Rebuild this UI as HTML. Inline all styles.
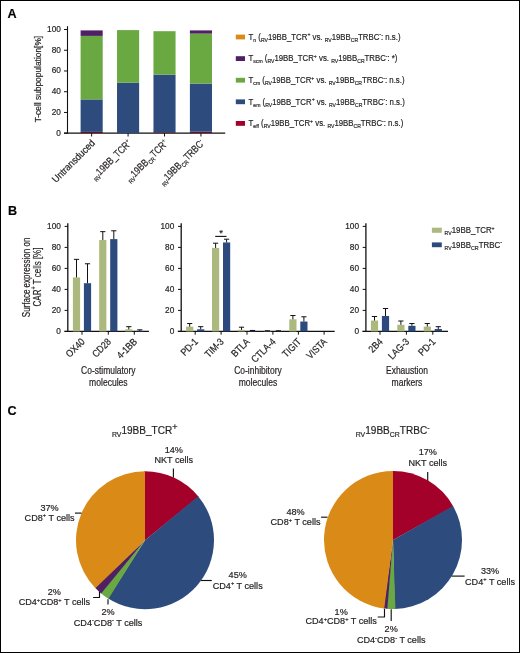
<!DOCTYPE html>
<html><head><meta charset="utf-8"><style>
html,body{margin:0;padding:0;background:#fff;}
svg{display:block;font-family:"Liberation Sans", sans-serif;will-change:transform;}
text{stroke:#231f20;stroke-width:0.2px;}
</style></head><body>
<svg width="520" height="653" viewBox="0 0 520 653">
<rect x="0.5" y="0.5" width="519" height="652" fill="none" stroke="#000" stroke-width="1"/>
<text x="7.6" y="18" font-size="12.6" font-weight="bold" fill="#000">A</text>
<text x="7.9" y="215.2" font-size="12.6" font-weight="bold" fill="#000">B</text>
<text x="7.6" y="415.2" font-size="12.6" font-weight="bold" fill="#000">C</text>
<line x1="67.5" y1="26.2" x2="67.5" y2="133.7" stroke="#111" stroke-width="1.1"/>
<line x1="64.0" y1="133.2" x2="225.2" y2="133.2" stroke="#111" stroke-width="1.2"/>
<line x1="64.0" y1="133.2" x2="67.5" y2="133.2" stroke="#111" stroke-width="1.0"/>
<text x="60.9" y="135.7" font-size="8.9" text-anchor="end" textLength="4.6" lengthAdjust="spacingAndGlyphs" fill="#231f20">0</text>
<line x1="64.0" y1="112.46" x2="67.5" y2="112.46" stroke="#111" stroke-width="1.0"/>
<text x="60.9" y="114.96" font-size="8.9" text-anchor="end" textLength="9.2" lengthAdjust="spacingAndGlyphs" fill="#231f20">20</text>
<line x1="64.0" y1="91.72" x2="67.5" y2="91.72" stroke="#111" stroke-width="1.0"/>
<text x="60.9" y="94.22" font-size="8.9" text-anchor="end" textLength="9.2" lengthAdjust="spacingAndGlyphs" fill="#231f20">40</text>
<line x1="64.0" y1="70.97999999999999" x2="67.5" y2="70.97999999999999" stroke="#111" stroke-width="1.0"/>
<text x="60.9" y="73.48" font-size="8.9" text-anchor="end" textLength="9.2" lengthAdjust="spacingAndGlyphs" fill="#231f20">60</text>
<line x1="64.0" y1="50.239999999999995" x2="67.5" y2="50.239999999999995" stroke="#111" stroke-width="1.0"/>
<text x="60.9" y="52.74" font-size="8.9" text-anchor="end" textLength="9.2" lengthAdjust="spacingAndGlyphs" fill="#231f20">80</text>
<line x1="64.0" y1="29.5" x2="67.5" y2="29.5" stroke="#111" stroke-width="1.0"/>
<text x="60.9" y="32.0" font-size="8.9" text-anchor="end" textLength="13.799999999999999" lengthAdjust="spacingAndGlyphs" fill="#231f20">100</text>
<rect x="80.60" y="131.90" width="22.10" height="1.10" fill="#6e0b28"/>
<rect x="80.60" y="99.40" width="22.10" height="32.50" fill="#2e4b7d"/>
<rect x="80.60" y="35.90" width="22.10" height="63.50" fill="#6aa842"/>
<rect x="80.60" y="30.40" width="22.10" height="5.50" fill="#4f2064"/>
<line x1="91.64999999999999" y1="133.2" x2="91.64999999999999" y2="136.5" stroke="#111" stroke-width="1.0"/>
<rect x="117.03" y="82.70" width="22.10" height="50.30" fill="#2e4b7d"/>
<rect x="117.03" y="30.10" width="22.10" height="52.60" fill="#6aa842"/>
<line x1="128.08" y1="133.2" x2="128.08" y2="136.5" stroke="#111" stroke-width="1.0"/>
<rect x="153.46" y="132.30" width="22.10" height="0.70" fill="#6e0b28"/>
<rect x="153.46" y="74.60" width="22.10" height="57.70" fill="#2e4b7d"/>
<rect x="153.46" y="31.20" width="22.10" height="43.40" fill="#6aa842"/>
<line x1="164.51" y1="133.2" x2="164.51" y2="136.5" stroke="#111" stroke-width="1.0"/>
<rect x="189.89" y="131.70" width="22.10" height="1.30" fill="#6e0b28"/>
<rect x="189.89" y="83.60" width="22.10" height="48.10" fill="#2e4b7d"/>
<rect x="189.89" y="33.60" width="22.10" height="50.00" fill="#6aa842"/>
<rect x="189.89" y="30.40" width="22.10" height="3.20" fill="#4f2064"/>
<line x1="200.94" y1="133.2" x2="200.94" y2="136.5" stroke="#111" stroke-width="1.0"/>
<text x="0" y="0" font-size="9.8" text-anchor="middle" fill="#231f20" textLength="86.5" lengthAdjust="spacingAndGlyphs" transform="translate(40.6,79.1) rotate(-90)">T-cell subpopulation[%]</text>
<text x="0" y="0" font-size="10.0" text-anchor="end" fill="#231f20" transform="translate(95.64999999999999,143.79999999999998) rotate(-45) scale(0.9,1)"><tspan font-size="10.00" dy="0.00">Untransduced</tspan></text>
<text x="0" y="0" font-size="10.2" text-anchor="end" fill="#231f20" transform="translate(132.08,143.79999999999998) rotate(-45) scale(0.82,1)"><tspan font-size="6.20" dy="2.24">RV</tspan><tspan font-size="10.20" dy="-2.24">19BB_TCR</tspan><tspan font-size="6.20" dy="-3.88">+</tspan></text>
<text x="0" y="0" font-size="10.2" text-anchor="end" fill="#231f20" transform="translate(168.51,143.79999999999998) rotate(-45) scale(0.82,1)"><tspan font-size="6.20" dy="2.24">RV</tspan><tspan font-size="10.20" dy="-2.24">19BB</tspan><tspan font-size="6.20" dy="2.24">CR</tspan><tspan font-size="10.20" dy="-2.24">TCR</tspan><tspan font-size="6.20" dy="-3.88">+</tspan></text>
<text x="0" y="0" font-size="10.2" text-anchor="end" fill="#231f20" transform="translate(204.94,143.79999999999998) rotate(-45) scale(0.82,1)"><tspan font-size="6.20" dy="2.24">RV</tspan><tspan font-size="10.20" dy="-2.24">19BB</tspan><tspan font-size="6.20" dy="2.24">CR</tspan><tspan font-size="10.20" dy="-2.24">TRBC</tspan><tspan font-size="6.20" dy="-3.88">-</tspan></text>
<rect x="235.80" y="34.60" width="9.20" height="4.80" fill="#da8a17"/>
<text x="0" y="0" font-size="9.2" fill="#231f20" transform="translate(248.6,39.8) scale(0.85,1)"><tspan font-size="9.20" dy="0.00">T</tspan><tspan font-size="6.00" dy="2.02">n</tspan><tspan font-size="9.20" dy="-2.02"> (</tspan><tspan font-size="6.00" dy="2.02">RV</tspan><tspan font-size="9.20" dy="-2.02">19BB_TCR</tspan><tspan font-size="6.00" dy="-3.50">+</tspan><tspan font-size="9.20" dy="3.50"> vs. </tspan><tspan font-size="6.00" dy="2.02">RV</tspan><tspan font-size="9.20" dy="-2.02">19BB</tspan><tspan font-size="6.00" dy="2.02">CR</tspan><tspan font-size="9.20" dy="-2.02">TRBC</tspan><tspan font-size="6.00" dy="-3.50">-</tspan><tspan font-size="9.20" dy="3.50">: n.s.)</tspan></text>
<rect x="235.80" y="56.20" width="9.20" height="4.80" fill="#4f2064"/>
<text x="0" y="0" font-size="9.2" fill="#231f20" transform="translate(248.6,61.4) scale(0.85,1)"><tspan font-size="9.20" dy="0.00">T</tspan><tspan font-size="6.00" dy="2.02">scm</tspan><tspan font-size="9.20" dy="-2.02"> (</tspan><tspan font-size="6.00" dy="2.02">RV</tspan><tspan font-size="9.20" dy="-2.02">19BB_TCR</tspan><tspan font-size="6.00" dy="-3.50">+</tspan><tspan font-size="9.20" dy="3.50"> vs. </tspan><tspan font-size="6.00" dy="2.02">RV</tspan><tspan font-size="9.20" dy="-2.02">19BB</tspan><tspan font-size="6.00" dy="2.02">CR</tspan><tspan font-size="9.20" dy="-2.02">TRBC</tspan><tspan font-size="6.00" dy="-3.50">-</tspan><tspan font-size="9.20" dy="3.50">: *)</tspan></text>
<rect x="235.80" y="77.80" width="9.20" height="4.80" fill="#6aa842"/>
<text x="0" y="0" font-size="9.2" fill="#231f20" transform="translate(248.6,83.0) scale(0.85,1)"><tspan font-size="9.20" dy="0.00">T</tspan><tspan font-size="6.00" dy="2.02">cm</tspan><tspan font-size="9.20" dy="-2.02"> (</tspan><tspan font-size="6.00" dy="2.02">RV</tspan><tspan font-size="9.20" dy="-2.02">19BB_TCR</tspan><tspan font-size="6.00" dy="-3.50">+</tspan><tspan font-size="9.20" dy="3.50"> vs. </tspan><tspan font-size="6.00" dy="2.02">RV</tspan><tspan font-size="9.20" dy="-2.02">19BB</tspan><tspan font-size="6.00" dy="2.02">CR</tspan><tspan font-size="9.20" dy="-2.02">TRBC</tspan><tspan font-size="6.00" dy="-3.50">-</tspan><tspan font-size="9.20" dy="3.50">: n.s.)</tspan></text>
<rect x="235.80" y="99.40" width="9.20" height="4.80" fill="#2e4b7d"/>
<text x="0" y="0" font-size="9.2" fill="#231f20" transform="translate(248.6,104.6) scale(0.85,1)"><tspan font-size="9.20" dy="0.00">T</tspan><tspan font-size="6.00" dy="2.02">em</tspan><tspan font-size="9.20" dy="-2.02"> (</tspan><tspan font-size="6.00" dy="2.02">RV</tspan><tspan font-size="9.20" dy="-2.02">19BB_TCR</tspan><tspan font-size="6.00" dy="-3.50">+</tspan><tspan font-size="9.20" dy="3.50"> vs. </tspan><tspan font-size="6.00" dy="2.02">RV</tspan><tspan font-size="9.20" dy="-2.02">19BB</tspan><tspan font-size="6.00" dy="2.02">CR</tspan><tspan font-size="9.20" dy="-2.02">TRBC</tspan><tspan font-size="6.00" dy="-3.50">-</tspan><tspan font-size="9.20" dy="3.50">: n.s.)</tspan></text>
<rect x="235.80" y="121.00" width="9.20" height="4.80" fill="#a3002a"/>
<text x="0" y="0" font-size="9.2" fill="#231f20" transform="translate(248.6,126.2) scale(0.85,1)"><tspan font-size="9.20" dy="0.00">T</tspan><tspan font-size="6.00" dy="2.02">eff</tspan><tspan font-size="9.20" dy="-2.02"> (</tspan><tspan font-size="6.00" dy="2.02">RV</tspan><tspan font-size="9.20" dy="-2.02">19BB_TCR</tspan><tspan font-size="6.00" dy="-3.50">+</tspan><tspan font-size="9.20" dy="3.50"> vs. </tspan><tspan font-size="6.00" dy="2.02">RV</tspan><tspan font-size="9.20" dy="-2.02">19BB</tspan><tspan font-size="6.00" dy="2.02">CR</tspan><tspan font-size="9.20" dy="-2.02">TRBC</tspan><tspan font-size="6.00" dy="-3.50">-</tspan><tspan font-size="9.20" dy="3.50">: n.s.)</tspan></text>
<line x1="67.8" y1="223.3" x2="67.8" y2="332.0" stroke="#111" stroke-width="1.3"/>
<line x1="64.39999999999999" y1="331.4" x2="148.9" y2="331.4" stroke="#111" stroke-width="1.2"/>
<line x1="64.6" y1="331.4" x2="67.8" y2="331.4" stroke="#111" stroke-width="1.0"/>
<text x="60.9" y="334.4" font-size="8.9" text-anchor="end" textLength="4.6" lengthAdjust="spacingAndGlyphs" fill="#231f20">0</text>
<line x1="64.6" y1="310.4" x2="67.8" y2="310.4" stroke="#111" stroke-width="1.0"/>
<text x="60.9" y="313.4" font-size="8.9" text-anchor="end" textLength="9.2" lengthAdjust="spacingAndGlyphs" fill="#231f20">20</text>
<line x1="64.6" y1="289.4" x2="67.8" y2="289.4" stroke="#111" stroke-width="1.0"/>
<text x="60.9" y="292.4" font-size="8.9" text-anchor="end" textLength="9.2" lengthAdjust="spacingAndGlyphs" fill="#231f20">40</text>
<line x1="64.6" y1="268.4" x2="67.8" y2="268.4" stroke="#111" stroke-width="1.0"/>
<text x="60.9" y="271.4" font-size="8.9" text-anchor="end" textLength="9.2" lengthAdjust="spacingAndGlyphs" fill="#231f20">60</text>
<line x1="64.6" y1="247.39999999999998" x2="67.8" y2="247.39999999999998" stroke="#111" stroke-width="1.0"/>
<text x="60.9" y="250.4" font-size="8.9" text-anchor="end" textLength="9.2" lengthAdjust="spacingAndGlyphs" fill="#231f20">80</text>
<line x1="64.6" y1="226.39999999999998" x2="67.8" y2="226.39999999999998" stroke="#111" stroke-width="1.0"/>
<text x="60.9" y="229.4" font-size="8.9" text-anchor="end" textLength="13.799999999999999" lengthAdjust="spacingAndGlyphs" fill="#231f20">100</text>
<rect x="72.90" y="277.43" width="7.20" height="53.97" fill="#abb97f"/>
<line x1="76.5" y1="259.37" x2="76.5" y2="277.42999999999995" stroke="#111" stroke-width="1.0"/>
<line x1="73.9" y1="259.37" x2="79.1" y2="259.37" stroke="#111" stroke-width="1.0"/>
<rect x="83.90" y="283.20" width="7.20" height="48.20" fill="#2d4a7f"/>
<line x1="87.5" y1="263.78" x2="87.5" y2="283.205" stroke="#111" stroke-width="1.0"/>
<line x1="84.9" y1="263.78" x2="90.1" y2="263.78" stroke="#111" stroke-width="1.0"/>
<line x1="82.0" y1="331.4" x2="82.0" y2="334.7" stroke="#111" stroke-width="1.0"/>
<text x="0" y="0" font-size="10" text-anchor="end" fill="#231f20" transform="translate(85.4,342.4) rotate(-45) scale(0.86,1)">OX40</text>
<rect x="99.20" y="240.05" width="7.20" height="91.35" fill="#abb97f"/>
<line x1="102.8" y1="231.64999999999998" x2="102.8" y2="240.04999999999995" stroke="#111" stroke-width="1.0"/>
<line x1="100.2" y1="231.64999999999998" x2="105.39999999999999" y2="231.64999999999998" stroke="#111" stroke-width="1.0"/>
<rect x="110.20" y="239.10" width="7.20" height="92.30" fill="#2d4a7f"/>
<line x1="113.8" y1="230.80999999999997" x2="113.8" y2="239.10499999999996" stroke="#111" stroke-width="1.0"/>
<line x1="111.2" y1="230.80999999999997" x2="116.39999999999999" y2="230.80999999999997" stroke="#111" stroke-width="1.0"/>
<line x1="108.3" y1="331.4" x2="108.3" y2="334.7" stroke="#111" stroke-width="1.0"/>
<text x="0" y="0" font-size="10" text-anchor="end" fill="#231f20" transform="translate(111.7,342.4) rotate(-45) scale(0.86,1)">CD28</text>
<rect x="125.20" y="329.30" width="7.20" height="2.10" fill="#abb97f"/>
<line x1="128.8" y1="326.67499999999995" x2="128.8" y2="329.29999999999995" stroke="#111" stroke-width="1.0"/>
<line x1="126.20000000000002" y1="326.67499999999995" x2="131.4" y2="326.67499999999995" stroke="#111" stroke-width="1.0"/>
<rect x="136.20" y="330.88" width="7.20" height="0.53" fill="#2d4a7f"/>
<line x1="139.8" y1="329.825" x2="139.8" y2="330.875" stroke="#111" stroke-width="1.0"/>
<line x1="137.20000000000002" y1="329.825" x2="142.4" y2="329.825" stroke="#111" stroke-width="1.0"/>
<line x1="134.3" y1="331.4" x2="134.3" y2="334.7" stroke="#111" stroke-width="1.0"/>
<text x="0" y="0" font-size="10" text-anchor="end" fill="#231f20" transform="translate(137.70000000000002,342.4) rotate(-45) scale(0.86,1)">4-1BB</text>
<text x="0" y="0" font-size="10.2" text-anchor="middle" fill="#231f20" transform="translate(108.35,373.5) scale(0.83,1)">Co-stimulatory</text>
<text x="0" y="0" font-size="10.2" text-anchor="middle" fill="#231f20" transform="translate(108.35,385.8) scale(0.84,1)">molecules</text>
<line x1="181.2" y1="223.3" x2="181.2" y2="332.0" stroke="#111" stroke-width="1.3"/>
<line x1="177.79999999999998" y1="331.4" x2="334.7" y2="331.4" stroke="#111" stroke-width="1.2"/>
<line x1="178.0" y1="331.4" x2="181.2" y2="331.4" stroke="#111" stroke-width="1.0"/>
<text x="174.3" y="334.4" font-size="8.9" text-anchor="end" textLength="4.6" lengthAdjust="spacingAndGlyphs" fill="#231f20">0</text>
<line x1="178.0" y1="310.4" x2="181.2" y2="310.4" stroke="#111" stroke-width="1.0"/>
<text x="174.3" y="313.4" font-size="8.9" text-anchor="end" textLength="9.2" lengthAdjust="spacingAndGlyphs" fill="#231f20">20</text>
<line x1="178.0" y1="289.4" x2="181.2" y2="289.4" stroke="#111" stroke-width="1.0"/>
<text x="174.3" y="292.4" font-size="8.9" text-anchor="end" textLength="9.2" lengthAdjust="spacingAndGlyphs" fill="#231f20">40</text>
<line x1="178.0" y1="268.4" x2="181.2" y2="268.4" stroke="#111" stroke-width="1.0"/>
<text x="174.3" y="271.4" font-size="8.9" text-anchor="end" textLength="9.2" lengthAdjust="spacingAndGlyphs" fill="#231f20">60</text>
<line x1="178.0" y1="247.39999999999998" x2="181.2" y2="247.39999999999998" stroke="#111" stroke-width="1.0"/>
<text x="174.3" y="250.4" font-size="8.9" text-anchor="end" textLength="9.2" lengthAdjust="spacingAndGlyphs" fill="#231f20">80</text>
<line x1="178.0" y1="226.39999999999998" x2="181.2" y2="226.39999999999998" stroke="#111" stroke-width="1.0"/>
<text x="174.3" y="229.4" font-size="8.9" text-anchor="end" textLength="13.799999999999999" lengthAdjust="spacingAndGlyphs" fill="#231f20">100</text>
<rect x="186.10" y="326.67" width="7.20" height="4.73" fill="#abb97f"/>
<line x1="189.7" y1="323.525" x2="189.7" y2="326.67499999999995" stroke="#111" stroke-width="1.0"/>
<line x1="187.1" y1="323.525" x2="192.29999999999998" y2="323.525" stroke="#111" stroke-width="1.0"/>
<rect x="197.10" y="329.30" width="7.20" height="2.10" fill="#2d4a7f"/>
<line x1="200.7" y1="326.67499999999995" x2="200.7" y2="329.29999999999995" stroke="#111" stroke-width="1.0"/>
<line x1="198.1" y1="326.67499999999995" x2="203.29999999999998" y2="326.67499999999995" stroke="#111" stroke-width="1.0"/>
<line x1="195.2" y1="331.4" x2="195.2" y2="334.7" stroke="#111" stroke-width="1.0"/>
<text x="0" y="0" font-size="10" text-anchor="end" fill="#231f20" transform="translate(198.6,342.4) rotate(-45) scale(0.86,1)">PD-1</text>
<rect x="212.00" y="247.92" width="7.20" height="83.48" fill="#abb97f"/>
<line x1="215.6" y1="243.2" x2="215.6" y2="247.92499999999995" stroke="#111" stroke-width="1.0"/>
<line x1="213.0" y1="243.2" x2="218.2" y2="243.2" stroke="#111" stroke-width="1.0"/>
<rect x="223.00" y="242.46" width="7.20" height="88.94" fill="#2d4a7f"/>
<line x1="226.6" y1="239.20999999999998" x2="226.6" y2="242.46499999999997" stroke="#111" stroke-width="1.0"/>
<line x1="224.0" y1="239.20999999999998" x2="229.2" y2="239.20999999999998" stroke="#111" stroke-width="1.0"/>
<line x1="221.1" y1="331.4" x2="221.1" y2="334.7" stroke="#111" stroke-width="1.0"/>
<text x="0" y="0" font-size="10" text-anchor="end" fill="#231f20" transform="translate(224.5,342.4) rotate(-45) scale(0.86,1)">TIM-3</text>
<rect x="237.90" y="329.82" width="7.20" height="1.58" fill="#abb97f"/>
<line x1="241.5" y1="327.2" x2="241.5" y2="329.825" stroke="#111" stroke-width="1.0"/>
<line x1="238.9" y1="327.2" x2="244.1" y2="327.2" stroke="#111" stroke-width="1.0"/>
<rect x="248.90" y="330.88" width="7.20" height="0.53" fill="#2d4a7f"/>
<line x1="252.5" y1="330.455" x2="252.5" y2="330.875" stroke="#111" stroke-width="1.0"/>
<line x1="249.9" y1="330.455" x2="255.1" y2="330.455" stroke="#111" stroke-width="1.0"/>
<line x1="247.0" y1="331.4" x2="247.0" y2="334.7" stroke="#111" stroke-width="1.0"/>
<text x="0" y="0" font-size="10" text-anchor="end" fill="#231f20" transform="translate(250.4,342.4) rotate(-45) scale(0.86,1)">BTLA</text>
<rect x="263.80" y="331.08" width="7.20" height="0.32" fill="#abb97f"/>
<line x1="267.4" y1="330.77" x2="267.4" y2="331.085" stroke="#111" stroke-width="1.0"/>
<line x1="264.79999999999995" y1="330.77" x2="270.0" y2="330.77" stroke="#111" stroke-width="1.0"/>
<rect x="274.80" y="331.08" width="7.20" height="0.32" fill="#2d4a7f"/>
<line x1="278.4" y1="330.77" x2="278.4" y2="331.085" stroke="#111" stroke-width="1.0"/>
<line x1="275.79999999999995" y1="330.77" x2="281.0" y2="330.77" stroke="#111" stroke-width="1.0"/>
<line x1="272.9" y1="331.4" x2="272.9" y2="334.7" stroke="#111" stroke-width="1.0"/>
<text x="0" y="0" font-size="10" text-anchor="end" fill="#231f20" transform="translate(276.29999999999995,342.4) rotate(-45) scale(0.86,1)">CTLA-4</text>
<rect x="289.30" y="319.32" width="7.20" height="12.08" fill="#abb97f"/>
<line x1="292.9" y1="315.54499999999996" x2="292.9" y2="319.325" stroke="#111" stroke-width="1.0"/>
<line x1="290.29999999999995" y1="315.54499999999996" x2="295.5" y2="315.54499999999996" stroke="#111" stroke-width="1.0"/>
<rect x="300.30" y="321.53" width="7.20" height="9.87" fill="#2d4a7f"/>
<line x1="303.9" y1="316.80499999999995" x2="303.9" y2="321.53" stroke="#111" stroke-width="1.0"/>
<line x1="301.29999999999995" y1="316.80499999999995" x2="306.5" y2="316.80499999999995" stroke="#111" stroke-width="1.0"/>
<line x1="298.4" y1="331.4" x2="298.4" y2="334.7" stroke="#111" stroke-width="1.0"/>
<text x="0" y="0" font-size="10" text-anchor="end" fill="#231f20" transform="translate(301.79999999999995,342.4) rotate(-45) scale(0.86,1)">TIGIT</text>
<line x1="324.1" y1="331.4" x2="324.1" y2="334.7" stroke="#111" stroke-width="1.0"/>
<text x="0" y="0" font-size="10" text-anchor="end" fill="#231f20" transform="translate(327.5,342.4) rotate(-45) scale(0.86,1)">VISTA</text>
<text x="0" y="0" font-size="10.2" text-anchor="middle" fill="#231f20" transform="translate(257.95,373.5) scale(0.83,1)">Co-inhibitory</text>
<text x="0" y="0" font-size="10.2" text-anchor="middle" fill="#231f20" transform="translate(257.95,385.8) scale(0.84,1)">molecules</text>
<line x1="365.9" y1="223.3" x2="365.9" y2="332.0" stroke="#111" stroke-width="1.3"/>
<line x1="362.5" y1="331.4" x2="448.0" y2="331.4" stroke="#111" stroke-width="1.2"/>
<line x1="362.7" y1="331.4" x2="365.9" y2="331.4" stroke="#111" stroke-width="1.0"/>
<text x="359.0" y="334.4" font-size="8.9" text-anchor="end" textLength="4.6" lengthAdjust="spacingAndGlyphs" fill="#231f20">0</text>
<line x1="362.7" y1="310.4" x2="365.9" y2="310.4" stroke="#111" stroke-width="1.0"/>
<text x="359.0" y="313.4" font-size="8.9" text-anchor="end" textLength="9.2" lengthAdjust="spacingAndGlyphs" fill="#231f20">20</text>
<line x1="362.7" y1="289.4" x2="365.9" y2="289.4" stroke="#111" stroke-width="1.0"/>
<text x="359.0" y="292.4" font-size="8.9" text-anchor="end" textLength="9.2" lengthAdjust="spacingAndGlyphs" fill="#231f20">40</text>
<line x1="362.7" y1="268.4" x2="365.9" y2="268.4" stroke="#111" stroke-width="1.0"/>
<text x="359.0" y="271.4" font-size="8.9" text-anchor="end" textLength="9.2" lengthAdjust="spacingAndGlyphs" fill="#231f20">60</text>
<line x1="362.7" y1="247.39999999999998" x2="365.9" y2="247.39999999999998" stroke="#111" stroke-width="1.0"/>
<text x="359.0" y="250.4" font-size="8.9" text-anchor="end" textLength="9.2" lengthAdjust="spacingAndGlyphs" fill="#231f20">80</text>
<line x1="362.7" y1="226.39999999999998" x2="365.9" y2="226.39999999999998" stroke="#111" stroke-width="1.0"/>
<text x="359.0" y="229.4" font-size="8.9" text-anchor="end" textLength="13.799999999999999" lengthAdjust="spacingAndGlyphs" fill="#231f20">100</text>
<rect x="370.90" y="320.58" width="7.20" height="10.82" fill="#abb97f"/>
<line x1="374.5" y1="316.48999999999995" x2="374.5" y2="320.585" stroke="#111" stroke-width="1.0"/>
<line x1="371.9" y1="316.48999999999995" x2="377.1" y2="316.48999999999995" stroke="#111" stroke-width="1.0"/>
<rect x="381.90" y="315.96" width="7.20" height="15.44" fill="#2d4a7f"/>
<line x1="385.5" y1="308.51" x2="385.5" y2="315.965" stroke="#111" stroke-width="1.0"/>
<line x1="382.9" y1="308.51" x2="388.1" y2="308.51" stroke="#111" stroke-width="1.0"/>
<line x1="380.0" y1="331.4" x2="380.0" y2="334.7" stroke="#111" stroke-width="1.0"/>
<text x="0" y="0" font-size="10" text-anchor="end" fill="#231f20" transform="translate(383.4,342.4) rotate(-45) scale(0.86,1)">2B4</text>
<rect x="397.30" y="324.78" width="7.20" height="6.62" fill="#abb97f"/>
<line x1="400.9" y1="321.005" x2="400.9" y2="324.78499999999997" stroke="#111" stroke-width="1.0"/>
<line x1="398.29999999999995" y1="321.005" x2="403.5" y2="321.005" stroke="#111" stroke-width="1.0"/>
<rect x="408.30" y="325.83" width="7.20" height="5.57" fill="#2d4a7f"/>
<line x1="411.9" y1="323.525" x2="411.9" y2="325.835" stroke="#111" stroke-width="1.0"/>
<line x1="409.29999999999995" y1="323.525" x2="414.5" y2="323.525" stroke="#111" stroke-width="1.0"/>
<line x1="406.4" y1="331.4" x2="406.4" y2="334.7" stroke="#111" stroke-width="1.0"/>
<text x="0" y="0" font-size="10" text-anchor="end" fill="#231f20" transform="translate(409.79999999999995,342.4) rotate(-45) scale(0.86,1)">LAG-3</text>
<rect x="423.70" y="326.57" width="7.20" height="4.83" fill="#abb97f"/>
<line x1="427.3" y1="323.525" x2="427.3" y2="326.57" stroke="#111" stroke-width="1.0"/>
<line x1="424.7" y1="323.525" x2="429.90000000000003" y2="323.525" stroke="#111" stroke-width="1.0"/>
<rect x="434.70" y="328.98" width="7.20" height="2.42" fill="#2d4a7f"/>
<line x1="438.3" y1="326.67499999999995" x2="438.3" y2="328.98499999999996" stroke="#111" stroke-width="1.0"/>
<line x1="435.7" y1="326.67499999999995" x2="440.90000000000003" y2="326.67499999999995" stroke="#111" stroke-width="1.0"/>
<line x1="432.8" y1="331.4" x2="432.8" y2="334.7" stroke="#111" stroke-width="1.0"/>
<text x="0" y="0" font-size="10" text-anchor="end" fill="#231f20" transform="translate(436.2,342.4) rotate(-45) scale(0.86,1)">PD-1</text>
<text x="0" y="0" font-size="10.2" text-anchor="middle" fill="#231f20" transform="translate(406.95,373.5) scale(0.83,1)">Exhaustion</text>
<text x="0" y="0" font-size="10.2" text-anchor="middle" fill="#231f20" transform="translate(406.95,385.8) scale(0.84,1)">markers</text>
<line x1="215.2" y1="236.4" x2="226.5" y2="236.4" stroke="#111" stroke-width="1.1"/>
<text x="221" y="236.3" font-size="9.5" text-anchor="middle" fill="#231f20">*</text>
<text x="0" y="0" font-size="11.6" text-anchor="middle" fill="#231f20" textLength="79.5" lengthAdjust="spacingAndGlyphs" transform="translate(29.5,277.4) rotate(-90)">Surface expression on</text>
<text x="0" y="0" font-size="11.4" text-anchor="middle" fill="#231f20" transform="translate(40.5,277.0) rotate(-90) scale(0.7,1)"><tspan font-size="11.40" dy="0.00">CAR</tspan><tspan font-size="8.00" dy="-4.60">+</tspan><tspan font-size="11.40" dy="4.60"> T cells [%]</tspan></text>
<rect x="431.90" y="227.70" width="9.90" height="5.10" fill="#abb97f"/>
<rect x="431.90" y="242.40" width="9.90" height="4.80" fill="#2d4a7f"/>
<text x="0" y="0" font-size="8.6" fill="#231f20" transform="translate(444.6,233.0) scale(0.92,1)"><tspan font-size="5.60" dy="1.89">RV</tspan><tspan font-size="8.60" dy="-1.89">19BB_TCR</tspan><tspan font-size="5.60" dy="-3.40">+</tspan></text>
<text x="0" y="0" font-size="8.6" fill="#231f20" transform="translate(444.6,247.6) scale(0.92,1)"><tspan font-size="5.60" dy="1.89">RV</tspan><tspan font-size="8.60" dy="-1.89">19BB</tspan><tspan font-size="5.80" dy="1.89">CR</tspan><tspan font-size="8.60" dy="-1.89">TRBC</tspan><tspan font-size="6.00" dy="-3.27">-</tspan></text>
<path d="M145,540.2 L144.28,471.20 A69,69 0 0 1 198.62,496.78 Z" fill="#a3002a"/>
<path d="M145,540.2 L198.17,496.22 A69,69 0 0 1 107.82,598.33 Z" fill="#2e4b7d"/>
<path d="M145,540.2 L108.44,598.72 A69,69 0 0 1 100.56,592.98 Z" fill="#6aa842"/>
<path d="M145,540.2 L101.11,593.44 A69,69 0 0 1 94.87,587.61 Z" fill="#4f2064"/>
<path d="M145,540.2 L95.37,588.13 A69,69 0 0 1 145.00,471.20 Z" fill="#da8a17"/>
<path d="M393,540 L392.28,471.00 A69,69 0 0 1 453.35,506.55 Z" fill="#a3002a"/>
<path d="M393,540 L453.00,505.92 A69,69 0 0 1 394.69,608.98 Z" fill="#2e4b7d"/>
<path d="M393,540 L395.41,608.96 A69,69 0 0 1 386.63,608.71 Z" fill="#6aa842"/>
<path d="M393,540 L387.35,608.77 A69,69 0 0 1 383.52,608.35 Z" fill="#4f2064"/>
<path d="M393,540 L384.23,608.44 A69,69 0 0 1 393.00,471.00 Z" fill="#da8a17"/>
<text x="0" y="0" font-size="10.6" fill="#231f20" transform="translate(111.9,434.2) scale(0.95,1)"><tspan font-size="7.30" dy="2.33">RV</tspan><tspan font-size="10.60" dy="-2.33">19BB_TCR</tspan><tspan font-size="9.50" dy="-4.20">+</tspan></text>
<text x="0" y="0" font-size="10.6" fill="#231f20" transform="translate(355.7,434.3) scale(0.95,1)"><tspan font-size="7.30" dy="2.33">RV</tspan><tspan font-size="10.60" dy="-2.33">19BB</tspan><tspan font-size="7.30" dy="2.33">CR</tspan><tspan font-size="10.60" dy="-2.33">TRBC</tspan><tspan font-size="7.30" dy="-4.03">-</tspan></text>
<text x="173.8" y="452.8" font-size="9.1" text-anchor="middle" fill="#231f20">14%</text>
<text x="0" y="0" font-size="9.1" text-anchor="middle" fill="#231f20" transform="translate(173.8,463.4)"><tspan font-size="9.10" dy="0.00">NKT cells</tspan></text>
<line x1="173.4" y1="468.5" x2="173.4" y2="477.5" stroke="#111" stroke-width="1.15"/>
<text x="49.6" y="510.8" font-size="9.1" text-anchor="middle" fill="#231f20">37%</text>
<text x="0" y="0" font-size="9.1" text-anchor="middle" fill="#231f20" transform="translate(49.6,520.8)"><tspan font-size="9.10" dy="0.00">CD8</tspan><tspan font-size="5.64" dy="-3.46">+</tspan><tspan font-size="9.10" dy="3.46"> T cells</tspan></text>
<line x1="75" y1="513.1" x2="81.5" y2="513.1" stroke="#111" stroke-width="1.15"/>
<text x="237.7" y="577.8" font-size="9.1" text-anchor="middle" fill="#231f20">45%</text>
<text x="0" y="0" font-size="9.1" text-anchor="middle" fill="#231f20" transform="translate(237.7,588.5)"><tspan font-size="9.10" dy="0.00">CD4</tspan><tspan font-size="5.64" dy="-3.46">+</tspan><tspan font-size="9.10" dy="3.46"> T cells</tspan></text>
<line x1="201" y1="580.5" x2="211.8" y2="580.5" stroke="#111" stroke-width="1.15"/>
<text x="54.4" y="595.2" font-size="9.1" text-anchor="middle" fill="#231f20">2%</text>
<text x="0" y="0" font-size="9.1" text-anchor="middle" fill="#231f20" transform="translate(54.4,605.2)"><tspan font-size="9.10" dy="0.00">CD4</tspan><tspan font-size="5.64" dy="-3.46">+</tspan><tspan font-size="9.10" dy="3.46">CD8</tspan><tspan font-size="5.64" dy="-3.46">+</tspan><tspan font-size="9.10" dy="3.46"> T cells</tspan></text>
<polyline points="93.1,597.5 99.5,597.5 99.5,591.5" fill="none" stroke="#111" stroke-width="1.15"/>
<text x="108.1" y="614.6" font-size="9.1" text-anchor="middle" fill="#231f20">2%</text>
<text x="0" y="0" font-size="9.1" text-anchor="middle" fill="#231f20" transform="translate(108.1,625.6)"><tspan font-size="9.10" dy="0.00">CD4</tspan><tspan font-size="5.64" dy="-3.46">-</tspan><tspan font-size="9.10" dy="3.46">CD8</tspan><tspan font-size="5.64" dy="-3.46">-</tspan><tspan font-size="9.10" dy="3.46"> T cells</tspan></text>
<line x1="108" y1="599.2" x2="108" y2="604.6" stroke="#111" stroke-width="1.15"/>
<text x="427.8" y="455.0" font-size="9.1" text-anchor="middle" fill="#231f20">17%</text>
<text x="0" y="0" font-size="9.1" text-anchor="middle" fill="#231f20" transform="translate(427.8,465.5)"><tspan font-size="9.10" dy="0.00">NKT cells</tspan></text>
<line x1="427.7" y1="472" x2="427.7" y2="480.5" stroke="#111" stroke-width="1.15"/>
<text x="295.5" y="514.5" font-size="9.1" text-anchor="middle" fill="#231f20">48%</text>
<text x="0" y="0" font-size="9.1" text-anchor="middle" fill="#231f20" transform="translate(295.5,525.3)"><tspan font-size="9.10" dy="0.00">CD8</tspan><tspan font-size="5.64" dy="-3.46">+</tspan><tspan font-size="9.10" dy="3.46"> T cells</tspan></text>
<line x1="321.1" y1="517.2" x2="327.5" y2="517.2" stroke="#111" stroke-width="1.15"/>
<text x="490.0" y="574.2" font-size="9.1" text-anchor="middle" fill="#231f20">33%</text>
<text x="0" y="0" font-size="9.1" text-anchor="middle" fill="#231f20" transform="translate(490.0,584.5)"><tspan font-size="9.10" dy="0.00">CD4</tspan><tspan font-size="5.64" dy="-3.46">+</tspan><tspan font-size="9.10" dy="3.46"> T cells</tspan></text>
<line x1="451.5" y1="576.1" x2="464.6" y2="576.1" stroke="#111" stroke-width="1.15"/>
<text x="341.2" y="614.8" font-size="9.1" text-anchor="middle" fill="#231f20">1%</text>
<text x="0" y="0" font-size="9.1" text-anchor="middle" fill="#231f20" transform="translate(341.2,624.2)"><tspan font-size="9.10" dy="0.00">CD4</tspan><tspan font-size="5.64" dy="-3.46">+</tspan><tspan font-size="9.10" dy="3.46">CD8</tspan><tspan font-size="5.64" dy="-3.46">+</tspan><tspan font-size="9.10" dy="3.46"> T cells</tspan></text>
<polyline points="377.7,617.0 384.5,617.0 384.5,608.8" fill="none" stroke="#111" stroke-width="1.15"/>
<text x="391.2" y="631.8" font-size="9.1" text-anchor="middle" fill="#231f20">2%</text>
<text x="0" y="0" font-size="9.1" text-anchor="middle" fill="#231f20" transform="translate(391.2,643.0)"><tspan font-size="9.10" dy="0.00">CD4</tspan><tspan font-size="5.64" dy="-3.46">-</tspan><tspan font-size="9.10" dy="3.46">CD8</tspan><tspan font-size="5.64" dy="-3.46">-</tspan><tspan font-size="9.10" dy="3.46"> T cells</tspan></text>
<line x1="391.2" y1="609.2" x2="391.2" y2="621" stroke="#111" stroke-width="1.15"/>
</svg>
</body></html>
